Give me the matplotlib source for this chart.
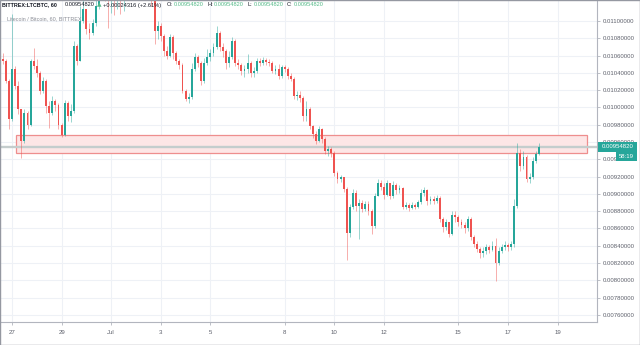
import numpy as np
import pandas as pd
import matplotlib
matplotlib.use('Agg')
import matplotlib.pyplot as plt
import matplotlib.dates as mdates
import matplotlib.transforms as mtransforms
from matplotlib.patches import Rectangle

plt.rcParams['font.family'] = ['Liberation Sans', 'DejaVu Sans']

# LTC/BTC (Bittrex), 3-hour candles, prices in 1e-5 BTC
start = '2019-06-26 12:00'
first_open = 1065
close = [1056, 1054, 1031, 987, 1044, 1025, 998, 961, 994, 980,
         1054, 1048, 1040, 1019, 1031, 1002, 994, 1008, 1003, 980,
         968, 1005, 990, 996, 1071, 1054, 1100, 1114, 1091, 1086,
         1098, 1117, 1135, 1146, 1140, 1129, 1132, 1129, 1135, 1130,
         1137, 1152, 1164, 1158, 1152, 1158, 1146, 1140, 1132, 1123,
         1088, 1094, 1083, 1065, 1060, 1082, 1063, 1054, 1049, 1019,
         1010, 1012, 1045, 1058, 1051, 1031, 1051, 1058, 1063, 1070,
         1086, 1070, 1065, 1051, 1058, 1077, 1051, 1049, 1042, 1045,
         1051, 1040, 1042, 1054, 1051, 1055, 1053, 1051, 1042, 1045,
         1036, 1047, 1045, 1036, 1033, 1013, 1014, 1011, 990, 998,
         979, 969, 961, 975, 964, 950, 952, 947, 924, 917,
         919, 906, 855, 885, 901, 886, 890, 883, 888, 880,
         863, 898, 913, 908, 899, 913, 898, 910, 904, 907,
         885, 887, 884, 887, 885, 891, 901, 905, 892, 894,
         892, 895, 871, 862, 867, 854, 876, 873, 868, 864,
         860, 871, 850, 842, 836, 832, 834, 839, 835, 840,
         820, 834, 839, 841, 838, 842, 886, 947, 932, 943,
         917, 920, 938, 946, 954.82]
high = [1068, 1063, 1056, 1033, 1108, 1048, 1031, 998, 998, 996,
        1056, 1069, 1056, 1042, 1035, 1033, 1008, 1013, 1010, 1005,
        982, 1009, 1008, 1004, 1077, 1073, 1117, 1129, 1114, 1098,
        1102, 1140, 1152, 1164, 1158, 1146, 1146, 1144, 1149, 1146,
        1152, 1169, 1181, 1175, 1169, 1175, 1167, 1158, 1149, 1137,
        1126, 1100, 1098, 1085, 1071, 1085, 1084, 1065, 1056, 1051,
        1021, 1017, 1051, 1063, 1061, 1054, 1057, 1068, 1068, 1075,
        1094, 1088, 1075, 1068, 1065, 1082, 1079, 1056, 1051, 1049,
        1062, 1054, 1047, 1057, 1057, 1058, 1057, 1056, 1054, 1049,
        1050, 1049, 1049, 1047, 1040, 1035, 1019, 1019, 1013, 1008,
        1001, 980, 973, 979, 976, 966, 955, 954, 950, 927,
        922, 920, 908, 888, 906, 904, 894, 893, 892, 892,
        883, 901, 917, 916, 913, 916, 913, 915, 913, 910,
        908, 891, 890, 891, 890, 893, 906, 908, 906, 898,
        897, 899, 897, 873, 871, 868, 880, 880, 876, 871,
        867, 875, 873, 853, 846, 839, 838, 842, 841, 845,
        849, 839, 842, 845, 843, 846, 894, 959, 952, 950,
        945, 924, 943, 950, 959]
low = [1054, 1050, 1028, 975, 984, 1021, 992, 942, 959, 975,
       979, 1044, 1035, 1016, 1017, 994, 976, 991, 996, 975,
       966, 967, 984, 983, 994, 1049, 1054, 1098, 1085, 1079,
       1084, 1094, 1114, 1129, 1123, 1092, 1109, 1107, 1114, 1108,
       1112, 1129, 1140, 1140, 1135, 1137, 1132, 1127, 1124, 1117,
       1073, 1079, 1077, 1060, 1056, 1058, 1056, 1050, 1045, 1017,
       1008, 1005, 1010, 1042, 1047, 1026, 1028, 1049, 1054, 1060,
       1068, 1065, 1058, 1045, 1047, 1056, 1048, 1045, 1038, 1035,
       1040, 1035, 1035, 1040, 1048, 1049, 1049, 1048, 1040, 1039,
       1033, 1034, 1041, 1033, 1031, 1010, 1009, 1006, 984, 984,
       975, 965, 958, 960, 959, 946, 944, 943, 921, 913,
       914, 902, 823, 850, 883, 880, 848, 879, 880, 876,
       854, 861, 897, 904, 894, 897, 894, 895, 900, 901,
       882, 882, 880, 882, 882, 884, 888, 898, 887, 888,
       888, 890, 868, 856, 858, 850, 853, 867, 863, 860,
       855, 857, 847, 839, 833, 826, 827, 831, 832, 834,
       799, 818, 832, 835, 834, 835, 839, 884, 927, 929,
       914, 913, 917, 936, 945]

last_price = 0.00954820
change_text = '+0.00024316 (+2.61%)'
countdown = '58:19'

# resistance zone drawn on the chart
zone_low, zone_high = 0.009474, 0.009682
zone_from, zone_to = '2019-06-27 04:00', '2019-07-20 04:30'

tick_dates = ['2019-06-27', '2019-06-29', '2019-07-01', '2019-07-03', '2019-07-05',
              '2019-07-08', '2019-07-10', '2019-07-12', '2019-07-15', '2019-07-17',
              '2019-07-19']
tick_labels = ['27', '29', 'Jul', '3', '5', '8', '10', '12', '15', '17', '19']
price_ticks = np.round(np.arange(0.0076, 0.01101, 0.0002), 4)

UP = '#26a69a'
DOWN = '#ef5350'
GRID = '#eef1f6'
AXIS = '#b2b5be'
TXT = '#5d606b'

W, H = 640, 345
fig = plt.figure(figsize=(W / 100, H / 100), dpi=100)
fig.patch.set_facecolor('white')
ax = fig.add_axes([0, 23 / H, 597 / W, 322 / H])

t = pd.date_range(start, periods=len(close), freq='3h')
x = mdates.date2num(t)
c = np.array(close) * 1e-5
o = np.array([first_open] + close[:-1]) * 1e-5
hi = np.array(high) * 1e-5
lo = np.array(low) * 1e-5
cols = np.where(c >= o, UP, DOWN)

# zone + last price line
zx0 = mdates.date2num(pd.Timestamp(zone_from))
zx1 = mdates.date2num(pd.Timestamp(zone_to))
ax.add_patch(Rectangle((zx0, zone_low), zx1 - zx0, zone_high - zone_low,
                       facecolor='#fde6e6', edgecolor='#ee8e8e', lw=0.9, zorder=1))
ax.axhline(last_price, color='#c4cdcd', lw=1.7, zorder=1.5)

# candles
ax.vlines(x, lo, hi, colors=cols, lw=0.6, alpha=0.55, zorder=3)
body = np.maximum(np.abs(c - o), 0.000008)
ax.bar(x, body, bottom=np.minimum(o, c), width=0.075, color=cols, lw=0, zorder=4)

ax.set_xlim(mdates.date2num(pd.Timestamp('2019-06-26 12:23')),
            mdates.date2num(pd.Timestamp('2019-07-20 14:10')))
ax.set_ylim(0.007518, 0.011243)

ax.set_xticks(mdates.date2num(pd.to_datetime(tick_dates)))
ax.set_xticklabels(tick_labels)
ax.yaxis.tick_right()
ax.set_yticks(price_ticks)
ax.set_yticklabels([f'{p:.8f}' for p in price_ticks])
ax.tick_params(axis='y', length=2.5, width=0.6, color=AXIS, labelsize=4.3,
               labelcolor=TXT, pad=1.5)
ax.tick_params(axis='x', length=2.5, width=0.6, color=AXIS, labelsize=4.4,
               labelcolor=TXT, pad=3.6)
ax.grid(True, color=GRID, lw=0.8, zorder=0)
ax.set_axisbelow(True)
for s in ['top', 'left']:
    ax.spines[s].set_visible(False)
for s in ['right', 'bottom']:
    ax.spines[s].set_color(AXIS)
    ax.spines[s].set_linewidth(0.8)

# last price label on the price scale
bt = mtransforms.blended_transform_factory(ax.transAxes, ax.transData)
px = 0.0002 / 17.29
ax.add_patch(Rectangle((1.002, last_price - 5 * px), 39 / 597, 10 * px, transform=bt,
                       facecolor=UP, edgecolor='none', clip_on=False, zorder=6))
ax.text(1.002 + 19.5 / 597, last_price, f'{last_price:.8f}', transform=bt, color='white',
        fontsize=4.3, ha='center', va='center', zorder=7, clip_on=False)
ax.add_patch(Rectangle((1.002 + 18 / 597, last_price - 14 * px), 21 / 597, 9 * px,
                       transform=bt, facecolor=UP, edgecolor='none', clip_on=False, zorder=6))
ax.text(1.002 + 28.5 / 597, last_price - 9.5 * px, countdown, transform=bt, color='white',
        fontsize=4.3, ha='center', va='center', zorder=7, clip_on=False)

# header legend
def hdr(xp, s, color, bold=False, size=4.1, yp=5, family=None):
    kw = {'family': family} if family else {}
    fig.text(xp / W, 1 - yp / H, s, color=color, fontsize=size, va='center', ha='left',
             fontweight='bold' if bold else 'normal', zorder=10, **kw)

dark = '#131722'
green = '#53b987'
val = f'{last_price:.8f}'
hdr(2, 'BITTREX:LTCBTC, 60', dark, bold=True, size=3.9)
hdr(65, val, dark)
hdr(96.5, '\u25b2', green, size=4.2, family='DejaVu Sans')
hdr(103, change_text, dark)
for xp, lab in [(167, 'O:'), (207, 'H:'), (247, 'L:'), (287, 'C:')]:
    hdr(xp, lab, dark)
    hdr(xp + 6.5, val, green)
hdr(7, 'Litecoin / Bitcoin, 60, BITTREX', '#8a8d96', size=3.9, yp=19)

fig.add_artist(Rectangle((0, 0), 1, 1, transform=fig.transFigure, fill=False,
                         edgecolor='#9598a1', lw=1.0))

fig.savefig('out.png', dpi=100)
